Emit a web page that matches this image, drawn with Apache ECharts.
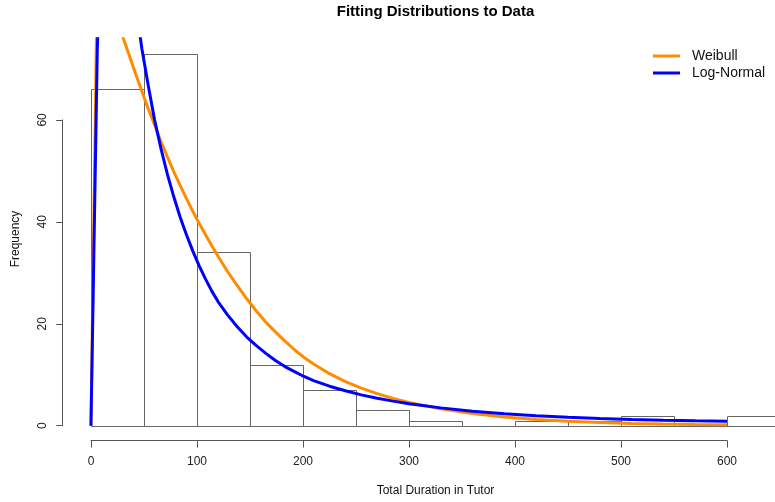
<!DOCTYPE html>
<html>
<head>
<meta charset="utf-8">
<script src="https://cdn.jsdelivr.net/npm/echarts@6/dist/echarts.min.js"></script>
<style>
html,body{margin:0;padding:0;background:#fff;}
#chart{width:775px;height:502px;}
</style>
</head>
<body>
<div id="chart"></div>
<script>
// ---- data ----
const binStarts = [0, 50, 100, 150, 200, 250, 300, 350, 400, 450, 500, 550, 600];
const binWidth = 50;
const counts = [66, 73, 34, 12, 7, 3, 1, 0, 1, 1, 2, 0, 2];

const curveX   = [0, 6, 12, 18, 24, 30, 36, 42, 48, 54, 60, 66, 72, 78, 84, 90, 96, 102, 108, 114, 120, 129, 138, 147, 156, 165, 174, 183, 192, 201, 210, 225, 240, 255, 270, 285, 300, 330, 360, 390, 420, 450, 480, 510, 540, 570, 600];
const weibullY = [0, 88, 87, 84, 80, 76.3, 72.7, 69.1, 65.6, 62.2, 59.0, 55.8, 52.8, 49.9, 47.2, 44.6, 42.1, 39.7, 37.5, 35.3, 33.2, 30.2, 27.5, 24.9, 22.5, 20.3, 18.4, 16.6, 14.9, 13.4, 12.1, 10.2, 8.66, 7.38, 6.29, 5.36, 4.57, 3.33, 2.40, 1.73, 1.23, 0.87, 0.61, 0.44, 0.33, 0.26, 0.21];
const lognormY = [0, 74, 110, 120, 115, 105, 94, 83, 74, 66.8, 60.0, 54.4, 49.4, 45.0, 41.0, 37.5, 34.3, 31.4, 28.8, 26.4, 24.3, 21.7, 19.4, 17.4, 15.7, 14.2, 12.8, 11.6, 10.6, 9.66, 8.84, 7.75, 6.85, 6.05, 5.4, 4.82, 4.3, 3.5, 2.85, 2.35, 1.95, 1.65, 1.4, 1.22, 1.08, 0.97, 0.88];

const xTicks = [0, 100, 200, 300, 400, 500, 600];
const yTicks = [0, 20, 40, 60];
const seriesNames = ['Weibull', 'Log-Normal'];

// ---- build ----
const barData = binStarts.map((s, i) => [s, s + binWidth, counts[i]]);
const wData = curveX.map((x, i) => [x, weibullY[i]]);
const lData = curveX.map((x, i) => [x, lognormY[i]]);

const FONT = '"Liberation Sans", Arial, Helvetica, sans-serif';
const chart = echarts.init(document.getElementById('chart'), null, {renderer: 'canvas'});

// plot region: x = 0 at 91px, 600 at 727px ; y = 0 at 425.7px, 60 at 119.9px
const plot = {left: 63.4, top: 38.7, width: 711.6, height: 401.9};
const xMin = -26, xMax = 645.3, yMin = -2.92, yMax = 75.92;

chart.setOption({
  animation: false,
  backgroundColor: '#fff',
  grid: [
    {left: plot.left, top: plot.top, width: plot.width, height: plot.height},
    {left: 91, top: plot.top, width: 636, height: plot.height},
    {left: 62.7, top: 119.9, width: 50, height: 305.8}
  ],
  xAxis: [
    {gridIndex: 0, type: 'value', min: xMin, max: xMax, show: false},
    {gridIndex: 1, type: 'value', min: xTicks[0], max: xTicks[xTicks.length - 1], interval: 100,
      axisLine: {show: true, lineStyle: {color: '#555', width: 1}},
      axisTick: {show: true, length: 7, lineStyle: {color: '#555'}},
      axisLabel: {show: true, margin: 15, color: '#222', fontSize: 12, fontFamily: FONT},
      splitLine: {show: false}},
    {gridIndex: 2, type: 'value', show: false, min: 0, max: 1}
  ],
  yAxis: [
    {gridIndex: 0, type: 'value', min: yMin, max: yMax, show: false},
    {gridIndex: 1, type: 'value', show: false, min: 0, max: 1},
    {gridIndex: 2, type: 'value', min: yTicks[0], max: yTicks[yTicks.length - 1], interval: 20,
      axisLine: {show: true, lineStyle: {color: '#555', width: 1}},
      axisTick: {show: true, length: 6.5, lineStyle: {color: '#555'}},
      axisLabel: {show: true, rotate: 90, margin: 14, color: '#222', fontSize: 12, fontFamily: FONT},
      splitLine: {show: false}}
  ],
  legend: {
    data: seriesNames,
    orient: 'vertical',
    left: 653,
    top: 49,
    padding: 0,
    icon: 'rect',
    itemWidth: 27,
    itemHeight: 3,
    itemGap: 3,
    textStyle: {fontSize: 14, color: '#111', fontFamily: FONT, padding: [0, 0, 0, 7]}
  },
  graphic: [
    {type: 'text', x: 435.5, y: 12, style: {text: 'Fitting Distributions to Data', font: 'bold 15px ' + FONT, fill: '#000', textAlign: 'center', textVerticalAlign: 'middle'}},
    {type: 'text', x: 435.5, y: 491, style: {text: 'Total Duration in Tutor', font: '12px ' + FONT, fill: '#111', textAlign: 'center', textVerticalAlign: 'middle'}},
    {type: 'text', x: 16, y: 239, rotation: Math.PI / 2, style: {text: 'Frequency', font: '12px ' + FONT, fill: '#111', textAlign: 'center', textVerticalAlign: 'middle'}}
  ],
  series: [
    {
      type: 'custom',
      name: 'hist',
      xAxisIndex: 0, yAxisIndex: 0,
      data: barData,
      clip: true,
      renderItem: function (params, api) {
        const p0 = api.coord([api.value(0), api.value(2)]);
        const p1 = api.coord([api.value(1), 0]);
        const x0 = Math.round(p0[0]) + 0.5, x1 = Math.round(p1[0]) + 0.5;
        const y0 = Math.round(p0[1]) + 0.5, y1 = Math.round(p1[1]) + 0.5;
        return {
          type: 'rect',
          shape: {x: x0, y: y0, width: x1 - x0, height: y1 - y0},
          style: {fill: 'none', stroke: '#666', lineWidth: 1}
        };
      }
    },
    {
      type: 'line', name: seriesNames[0], xAxisIndex: 0, yAxisIndex: 0,
      data: wData, showSymbol: false, symbol: 'none', clip: true, smooth: false,
      lineStyle: {color: '#FF8C00', width: 3}, itemStyle: {color: '#FF8C00'}
    },
    {
      type: 'line', name: seriesNames[1], xAxisIndex: 0, yAxisIndex: 0,
      data: lData, showSymbol: false, symbol: 'none', clip: true, smooth: false,
      lineStyle: {color: '#0000FF', width: 3}, itemStyle: {color: '#0000FF'}
    }
  ]
});
</script>
</body>
</html>
